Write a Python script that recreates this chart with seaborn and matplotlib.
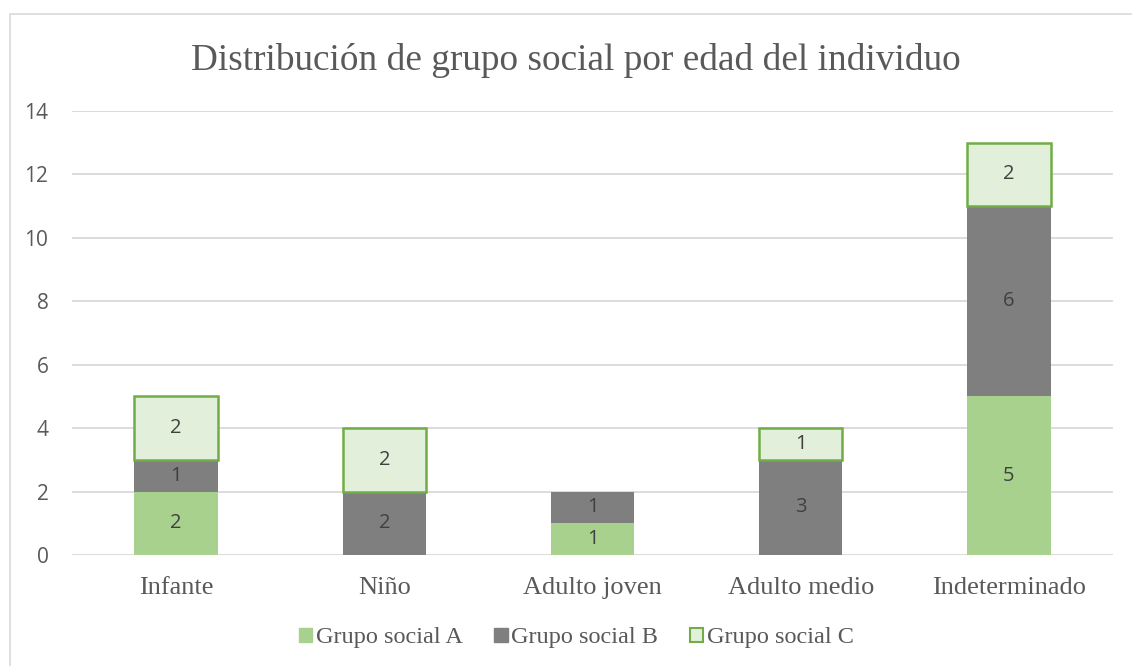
import matplotlib
matplotlib.use("Agg")
import matplotlib.pyplot as plt
import seaborn as sns
import numpy as np
from matplotlib.patches import Rectangle, Patch

categories = ["Infante", "Niño", "Adulto joven", "Adulto medio", "Indeterminado"]
grupo_a = [2, 0, 1, 0, 5]
grupo_b = [1, 2, 1, 3, 6]
grupo_c = [2, 2, 0, 1, 2]
series_names = ["Grupo social A", "Grupo social B", "Grupo social C"]
title = "Distribución de grupo social por edad del individuo"
yticks = [0, 2, 4, 6, 8, 10, 12, 14]

sns.set_theme(style="white")
plt.rcParams['font.family'] = ['Open Sans', 'DejaVu Sans']

fig = plt.figure(figsize=(11.32, 6.66), dpi=100)
ax = fig.add_axes([72/1132, 1-555/666, (1113-72)/1132, (555-111)/666])

col_a = "#A9D18E"
col_b = "#7F7F7F"
col_c_face = "#E2EFDA"
col_c_edge = "#70AD47"

bottom_b = list(np.array(grupo_a))
bottom_c = list(np.array(grupo_a) + np.array(grupo_b))

sns.barplot(x=categories, y=grupo_a, color=col_a, width=0.4, saturation=1,
            ax=ax, linewidth=0, zorder=3)
sns.barplot(x=categories, y=grupo_b, color=col_b, width=0.4, saturation=1,
            ax=ax, linewidth=0, zorder=3, bottom=bottom_b)
sns.barplot(x=categories, y=grupo_c, color=col_c_face, width=0.4, saturation=1,
            ax=ax, linewidth=1.8, edgecolor=col_c_edge, zorder=3, bottom=bottom_c)

for cont, vals in zip(ax.containers, [grupo_a, grupo_b, grupo_c]):
    labels = [str(v) if v != 0 else "" for v in vals]
    ax.bar_label(cont, labels=labels, label_type="center", color="#404040",
                 fontsize=14.5, family=['Open Sans', 'DejaVu Sans'])
    for p, v in zip(cont.patches, vals):
        if v == 0:
            p.set_visible(False)

ax.set_ylim(0, 14)
ax.set_xlim(-0.5, len(categories) - 0.5)
ax.set_yticks(yticks)
ax.yaxis.grid(True, color="#D9D9D9", linewidth=1.3, zorder=0)
ax.set_axisbelow(True)
for s in ax.spines.values():
    s.set_visible(False)
ax.tick_params(axis="y", length=0, pad=17, labelsize=15, labelcolor="#595959")
ax.tick_params(axis="x", length=0, pad=16, labelsize=19, labelcolor="#595959")
for lab in ax.get_xticklabels():
    lab.set_family("Liberation Serif")
ax.set_xlabel("")
ax.set_ylabel("")

fig.text(0.509, 1-61/666, title, ha="center", va="center", fontsize=26.8,
         family="Liberation Serif", color="#595959")

handles = [Patch(facecolor=col_a, edgecolor=col_a),
           Patch(facecolor=col_b, edgecolor=col_b),
           Patch(facecolor=col_c_face, edgecolor=col_c_edge, linewidth=1.5)]
fig.legend(handles, series_names, loc="center", bbox_to_anchor=(0.509, 1-638/666),
           ncol=3, frameon=False, prop={"family": "Liberation Serif", "size": 17.5},
           handlelength=0.55, handleheight=0.55, handletextpad=0.15, columnspacing=1.3,
           labelcolor="#595959")

fig.patches.append(Rectangle((10/1132, -0.05), 1.2, 1.05 - 14/666,
                             transform=fig.transFigure, fill=False,
                             edgecolor="#D9D9D9", linewidth=1.2, figure=fig))

fig.savefig("out.png", dpi=100, facecolor="white")
